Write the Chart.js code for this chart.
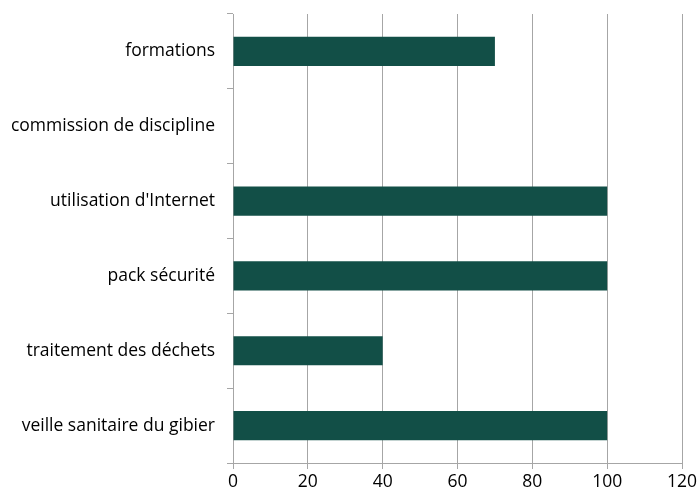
<!DOCTYPE html>
<html>
<head>
<meta charset="utf-8">
<script src="https://cdn.jsdelivr.net/npm/chart.js@4"></script>
<style>
  html, body { margin: 0; padding: 0; background: #fff; }
  #wrap { width: 698px; height: 496px; }
</style>
</head>
<body>
<div id="wrap"><canvas id="chart" width="698" height="496"></canvas></div>
<script>
// categories, top to bottom
const categories = [
  'formations',
  'commission de discipline',
  "utilisation d'Internet",
  'pack sécurité',
  'traitement des déchets',
  'veille sanitaire du gibier'
];
const values = [70, 0, 100, 100, 40, 100];
const xTicks = [0, 20, 40, 60, 80, 100, 120];

const GRID = '#a6a6a6';
const FONT = { family: '"Open Sans", Lato, sans-serif', size: 17.5 };

new Chart(document.getElementById('chart'), {
  type: 'bar',
  data: {
    labels: categories,
    datasets: [{
      data: values,
      backgroundColor: '#124f47',
      borderWidth: 0,
      barPercentage: 0.39,
      categoryPercentage: 1
    }]
  },
  options: {
    indexAxis: 'y',
    responsive: false,
    animation: false,
    layout: { padding: { top: 14, right: 16, left: 0, bottom: 0 } },
    plugins: { legend: { display: false }, tooltip: { enabled: false } },
    scales: {
      x: {
        min: xTicks[0],
        max: xTicks[xTicks.length - 1],
        afterBuildTicks: (s) => { s.ticks = xTicks.map(v => ({ value: v })); },
        afterFit: (s) => { s.height = 33; s.paddingRight = 0; s.paddingLeft = 0; },
        grid: { color: GRID, lineWidth: 1, tickLength: 6 },
        border: { color: GRID },
        ticks: { color: '#000', font: FONT, padding: 3 }
      },
      y: {
        afterFit: (s) => { s.width = 233; s.paddingTop = 0; s.paddingBottom = 0; },
        grid: { color: GRID, drawOnChartArea: false, tickLength: 6, offset: true },
        border: { color: GRID },
        ticks: { color: '#000', font: FONT, padding: 12 }
      }
    }
  }
});
</script>
</body>
</html>
